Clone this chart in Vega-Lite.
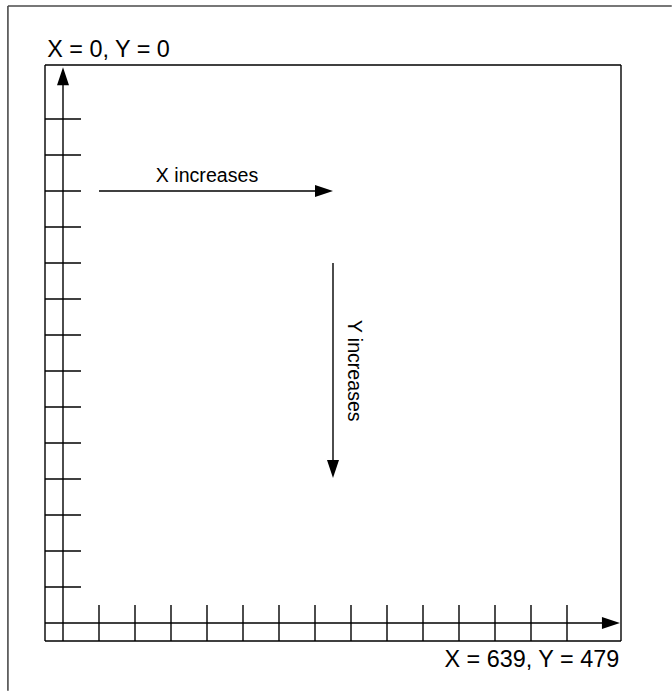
{
  "$schema": "https://vega.github.io/schema/vega-lite/v6.json",
  "width": 672,
  "height": 691,
  "autosize": "none",
  "padding": 0,
  "background": "white",
  "config": {"view": {"stroke": null}},
  "datasets": {
    "frame": [
      {"x": -1.03, "y": -1.64, "x2": 17.41, "y2": -1.64},
      {"x": -1.03, "y": -1.64, "x2": -1.03, "y2": 17.38}
    ],
    "segs": [
      {"x": 0, "y": 0, "x2": 16, "y2": 0},
      {"x": 16, "y": 0, "x2": 16, "y2": 16},
      {"x": 0, "y": 16, "x2": 16, "y2": 16},
      {"x": 0, "y": 0, "x2": 0, "y2": 16},
      {"x": 0.5, "y": 0.4, "x2": 0.5, "y2": 16},
      {"x": 0, "y": 15.5, "x2": 15.6, "y2": 15.5},
      {"x": 0, "y": 1.5, "x2": 1, "y2": 1.5},
      {"x": 0, "y": 2.5, "x2": 1, "y2": 2.5},
      {"x": 0, "y": 3.5, "x2": 1, "y2": 3.5},
      {"x": 0, "y": 4.5, "x2": 1, "y2": 4.5},
      {"x": 0, "y": 5.5, "x2": 1, "y2": 5.5},
      {"x": 0, "y": 6.5, "x2": 1, "y2": 6.5},
      {"x": 0, "y": 7.5, "x2": 1, "y2": 7.5},
      {"x": 0, "y": 8.5, "x2": 1, "y2": 8.5},
      {"x": 0, "y": 9.5, "x2": 1, "y2": 9.5},
      {"x": 0, "y": 10.5, "x2": 1, "y2": 10.5},
      {"x": 0, "y": 11.5, "x2": 1, "y2": 11.5},
      {"x": 0, "y": 12.5, "x2": 1, "y2": 12.5},
      {"x": 0, "y": 13.5, "x2": 1, "y2": 13.5},
      {"x": 0, "y": 14.5, "x2": 1, "y2": 14.5},
      {"x": 1.5, "y": 15, "x2": 1.5, "y2": 16},
      {"x": 2.5, "y": 15, "x2": 2.5, "y2": 16},
      {"x": 3.5, "y": 15, "x2": 3.5, "y2": 16},
      {"x": 4.5, "y": 15, "x2": 4.5, "y2": 16},
      {"x": 5.5, "y": 15, "x2": 5.5, "y2": 16},
      {"x": 6.5, "y": 15, "x2": 6.5, "y2": 16},
      {"x": 7.5, "y": 15, "x2": 7.5, "y2": 16},
      {"x": 8.5, "y": 15, "x2": 8.5, "y2": 16},
      {"x": 9.5, "y": 15, "x2": 9.5, "y2": 16},
      {"x": 10.5, "y": 15, "x2": 10.5, "y2": 16},
      {"x": 11.5, "y": 15, "x2": 11.5, "y2": 16},
      {"x": 12.5, "y": 15, "x2": 12.5, "y2": 16},
      {"x": 13.5, "y": 15, "x2": 13.5, "y2": 16},
      {"x": 14.5, "y": 15, "x2": 14.5, "y2": 16},
      {"x": 1.5, "y": 3.5, "x2": 7.6, "y2": 3.5},
      {"x": 8, "y": 5.5, "x2": 8, "y2": 11.1}
    ],
    "heads": [
      {"x": 0.5, "y": 0.06, "dir": 0},
      {"x": 15.97, "y": 15.5, "dir": 90},
      {"x": 8.0, "y": 3.5, "dir": 90},
      {"x": 8.0, "y": 11.47, "dir": 180}
    ],
    "labels": [
      {"id": "origin", "x": 0.06, "y": -0.22, "label": "X = 0, Y = 0"},
      {"id": "corner", "x": 15.95, "y": 16.72, "label": "X = 639, Y = 479"},
      {"id": "xinc", "x": 4.5, "y": 3.25, "label": "X increases"},
      {"id": "yinc", "x": 8.43, "y": 8.49, "label": "Y increases"}
    ]
  },
  "encoding": {
    "x": {"field": "x", "type": "quantitative", "axis": null,
          "scale": {"domain": [-1.25, 17.4167], "zero": false, "nice": false}},
    "y": {"field": "y", "type": "quantitative", "axis": null,
          "scale": {"domain": [-1.8056, 17.3889], "zero": false, "nice": false, "reverse": true}}
  },
  "layer": [
    {
      "data": {"name": "frame"},
      "mark": {"type": "rule", "color": "#4a4a4a", "strokeWidth": 1.6},
      "encoding": {"x2": {"field": "x2"}, "y2": {"field": "y2"}}
    },
    {
      "data": {"name": "segs"},
      "mark": {"type": "rule", "color": "black", "strokeWidth": 1.4},
      "encoding": {"x2": {"field": "x2"}, "y2": {"field": "y2"}}
    },
    {
      "data": {"name": "heads"},
      "mark": {"type": "point", "shape": "M0,0L0.667,2L-0.667,2Z", "size": 324, "filled": true, "color": "black", "opacity": 1, "strokeWidth": 0},
      "encoding": {"angle": {"field": "dir", "type": "quantitative", "scale": null}}
    },
    {
      "data": {"name": "labels"},
      "transform": [{"filter": "datum.id == 'origin'"}],
      "mark": {"type": "text", "align": "left", "baseline": "alphabetic", "font": "Liberation Sans", "fontSize": 23.4, "color": "black"},
      "encoding": {"text": {"field": "label"}}
    },
    {
      "data": {"name": "labels"},
      "transform": [{"filter": "datum.id == 'corner'"}],
      "mark": {"type": "text", "align": "right", "baseline": "alphabetic", "font": "Liberation Sans", "fontSize": 23.4, "color": "black"},
      "encoding": {"text": {"field": "label"}}
    },
    {
      "data": {"name": "labels"},
      "transform": [{"filter": "datum.id == 'xinc'"}],
      "mark": {"type": "text", "align": "center", "baseline": "alphabetic", "font": "Liberation Sans", "fontSize": 19.6, "color": "black"},
      "encoding": {"text": {"field": "label"}}
    },
    {
      "data": {"name": "labels"},
      "transform": [{"filter": "datum.id == 'yinc'"}],
      "mark": {"type": "text", "align": "center", "baseline": "alphabetic", "angle": 90, "font": "Liberation Sans", "fontSize": 19.6, "color": "black"},
      "encoding": {"text": {"field": "label"}}
    }
  ]
}
